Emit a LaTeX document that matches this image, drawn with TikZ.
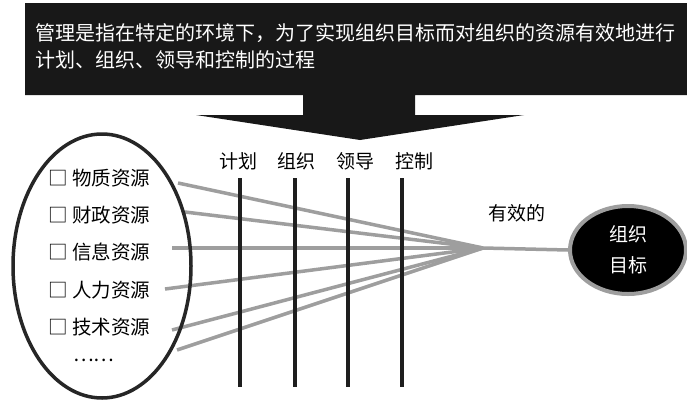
\documentclass[tikz,border=0pt]{standalone}
\usepackage{fontspec}
\setmainfont{Noto Sans CJK SC}
\usetikzlibrary{shapes.geometric}
\definecolor{bannerblack}{RGB}{24,24,24}
\definecolor{linegrey}{RGB}{158,158,158}
\definecolor{bargrey}{RGB}{30,30,30}
\begin{document}
\begin{tikzpicture}[x=1pt,y=-1pt,
  bannertext/.style={text=white, align=left, anchor=west, inner sep=0pt,
    font=\fontsize{20}{27}\selectfont},
  item/.style={anchor=west, inner sep=0pt, font=\fontsize{19.5}{24}\selectfont},
  barlabel/.style={inner sep=0pt, font=\fontsize{19}{24}\selectfont},
  barline/.style={draw=bargrey, line width=4.5pt},
  greyline/.style={draw=linegrey, line width=3.5pt},
  resellipse/.style={ellipse, draw=black!85, line width=3.5pt, inner sep=0pt,
    minimum width=178pt, minimum height=264pt},
  goalellipse/.style={ellipse, fill=black, draw=linegrey, line width=4pt, inner sep=0pt,
    minimum width=116pt, minimum height=88pt, text=white, align=center,
    font=\fontsize{19}{31}\selectfont}
]
\useasboundingbox (0,0) rectangle (687,399);
\fill[white] (0,0) rectangle (687,399);

% banner with downward arrow
\fill[bannerblack] (25,3) -- (687,3) -- (687,95) -- (415,95) -- (415,115)
  -- (524,115) -- (360,140) -- (196,115) -- (303,115) -- (303,95) -- (25,95) -- cycle;
\node[bannertext] (banner) at (35,46.5)
  {管理是指在特定的环境下，为了实现组织目标而对组织的资源有效地进行\\计划、组织、领导和控制的过程};

% coordinates
\coordinate (s1) at (178,183);
\coordinate (s2) at (185,212);
\coordinate (s3) at (172,248);
\coordinate (s4) at (165,289);
\coordinate (s5) at (172,330);
\coordinate (s6) at (177,350);
\coordinate (conv) at (483,248);

\node[goalellipse] (goal) at (628,250) {组织\\目标};

% grey lines
\draw[greyline] (s1) -- (conv);
\draw[greyline] (s2) -- (conv);
\draw[greyline] (s3) -- (conv);
\draw[greyline] (s4) -- (conv);
\draw[greyline] (s5) -- (conv);
\draw[greyline] (s6) -- (conv);
\draw[greyline] (conv) -- (goal.west);

% bars
\coordinate (b1t) at (240,178); \coordinate (b1b) at (240,387);
\coordinate (b2t) at (295,178); \coordinate (b2b) at (295,387);
\coordinate (b3t) at (348,178); \coordinate (b3b) at (348,387);
\coordinate (b4t) at (402,178); \coordinate (b4b) at (402,387);
\draw[barline] (b1t) -- (b1b);
\draw[barline] (b2t) -- (b2b);
\draw[barline] (b3t) -- (b3b);
\draw[barline] (b4t) -- (b4b);
\node[barlabel] (l1) at (238,161) {计划};
\node[barlabel] (l2) at (296,161) {组织};
\node[barlabel] (l3) at (355,161) {领导};
\node[barlabel] (l4) at (414,161) {控制};

\node[barlabel] (eff) at (517,213) {有效的};

% resources ellipse
\node[resellipse] (res) at (102,266) {};
\node[item] (r1) at (48,178) {□ 物质资源};
\node[item] (r2) at (48,215) {□ 财政资源};
\node[item] (r3) at (48,252) {□ 信息资源};
\node[item] (r4) at (48,290) {□ 人力资源};
\node[item] (r5) at (48,327) {□ 技术资源};
\node[item] (r6) at (73,360) {……};
\end{tikzpicture}
\end{document}
